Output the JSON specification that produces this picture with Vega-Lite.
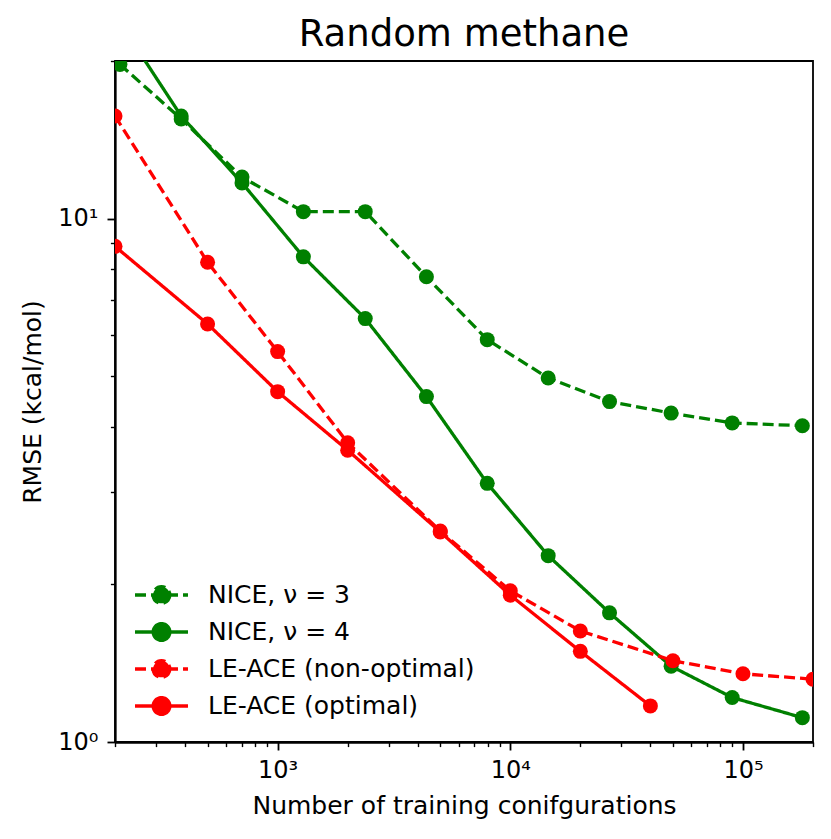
{
  "$schema": "https://vega.github.io/schema/vega-lite/v6.json",
  "autosize": {"type": "none"},
  "width": 698,
  "height": 681,
  "padding": {"left": 115, "top": 61, "right": 18, "bottom": 97},
  "background": "white",
  "title": {
    "text": "Random methane",
    "font": "DejaVu Sans",
    "fontSize": 37,
    "fontWeight": "normal",
    "color": "black",
    "anchor": "middle",
    "baseline": "alphabetic",
    "offset": -23
  },
  "config": {
    "view": {"stroke": "black", "strokeWidth": 1.8},
    "axis": {
      "domainColor": "black",
      "domainWidth": 1.8,
      "tickColor": "black",
      "tickWidth": 1.8,
      "labelColor": "black",
      "labelFont": "DejaVu Sans",
      "labelFontSize": 24,
      "titleFont": "DejaVu Sans",
      "titleFontSize": 25,
      "titleFontWeight": "normal",
      "titleColor": "black",
      "grid": false,
      "labelOverlap": false,
      "labelFlush": false
    }
  },
  "data": {
    "values": [
      {"series": "NICE, ν = 3", "n": 210, "rmse": 19.7},
      {"series": "NICE, ν = 3", "n": 385, "rmse": 15.5},
      {"series": "NICE, ν = 3", "n": 703, "rmse": 12.0},
      {"series": "NICE, ν = 3", "n": 1290, "rmse": 10.31},
      {"series": "NICE, ν = 3", "n": 2380, "rmse": 10.31},
      {"series": "NICE, ν = 3", "n": 4360, "rmse": 7.74},
      {"series": "NICE, ν = 3", "n": 7960, "rmse": 5.87},
      {"series": "NICE, ν = 3", "n": 14550, "rmse": 4.96},
      {"series": "NICE, ν = 3", "n": 26700, "rmse": 4.47},
      {"series": "NICE, ν = 3", "n": 49100, "rmse": 4.25},
      {"series": "NICE, ν = 3", "n": 89900, "rmse": 4.07},
      {"series": "NICE, ν = 3", "n": 180000, "rmse": 4.02},
      {"series": "NICE, ν = 4", "n": 210, "rmse": 23.7},
      {"series": "NICE, ν = 4", "n": 385, "rmse": 15.7},
      {"series": "NICE, ν = 4", "n": 703, "rmse": 11.7},
      {"series": "NICE, ν = 4", "n": 1290, "rmse": 8.45},
      {"series": "NICE, ν = 4", "n": 2380, "rmse": 6.44},
      {"series": "NICE, ν = 4", "n": 4360, "rmse": 4.57},
      {"series": "NICE, ν = 4", "n": 7960, "rmse": 3.12},
      {"series": "NICE, ν = 4", "n": 14550, "rmse": 2.27},
      {"series": "NICE, ν = 4", "n": 26700, "rmse": 1.765},
      {"series": "NICE, ν = 4", "n": 49100, "rmse": 1.396},
      {"series": "NICE, ν = 4", "n": 89900, "rmse": 1.216},
      {"series": "NICE, ν = 4", "n": 180000, "rmse": 1.113},
      {"series": "LE-ACE (non-optimal)", "n": 200, "rmse": 15.7},
      {"series": "LE-ACE (non-optimal)", "n": 500, "rmse": 8.25},
      {"series": "LE-ACE (non-optimal)", "n": 1000, "rmse": 5.57},
      {"series": "LE-ACE (non-optimal)", "n": 2000, "rmse": 3.73},
      {"series": "LE-ACE (non-optimal)", "n": 5000, "rmse": 2.53},
      {"series": "LE-ACE (non-optimal)", "n": 10000, "rmse": 1.945},
      {"series": "LE-ACE (non-optimal)", "n": 20000, "rmse": 1.63},
      {"series": "LE-ACE (non-optimal)", "n": 50000, "rmse": 1.43},
      {"series": "LE-ACE (non-optimal)", "n": 100000, "rmse": 1.35},
      {"series": "LE-ACE (non-optimal)", "n": 200000, "rmse": 1.318},
      {"series": "LE-ACE (optimal)", "n": 200, "rmse": 8.85},
      {"series": "LE-ACE (optimal)", "n": 500, "rmse": 6.29},
      {"series": "LE-ACE (optimal)", "n": 1000, "rmse": 4.67},
      {"series": "LE-ACE (optimal)", "n": 2000, "rmse": 3.61},
      {"series": "LE-ACE (optimal)", "n": 5000, "rmse": 2.52},
      {"series": "LE-ACE (optimal)", "n": 10000, "rmse": 1.908},
      {"series": "LE-ACE (optimal)", "n": 20000, "rmse": 1.49},
      {"series": "LE-ACE (optimal)", "n": 40000, "rmse": 1.172}
    ]
  },
  "resolve": {"axis": {"x": "independent", "y": "independent"}},
  "layer": [
    {
      "mark": {"type": "line", "strokeWidth": 3.3, "clip": true},
      "encoding": {
        "x": {
          "field": "n",
          "type": "quantitative",
          "scale": {"type": "log", "domain": [200, 200000], "nice": false},
          "axis": {
            "orient": "bottom",
            "values": [1000, 10000, 100000],
            "labelExpr": "datum.value == 1000 ? '10³' : datum.value == 10000 ? '10⁴' : '10⁵'",
            "tickSize": 8,
            "labelPadding": 8,
            "title": "Number of training conifgurations",
            "titlePadding": 11
          }
        },
        "y": {
          "field": "rmse",
          "type": "quantitative",
          "scale": {"type": "log", "domain": [1, 20], "nice": false},
          "axis": {
            "orient": "left",
            "values": [1, 10],
            "labelExpr": "datum.value == 1 ? '10⁰' : '10¹'",
            "tickSize": 8,
            "labelPadding": 9,
            "title": "RMSE (kcal/mol)",
            "titlePadding": 12
          }
        },
        "color": {
          "field": "series",
          "type": "nominal",
          "scale": {
            "domain": ["NICE, ν = 3", "NICE, ν = 4", "LE-ACE (non-optimal)", "LE-ACE (optimal)"],
            "range": ["#008000", "#008000", "#ff0000", "#ff0000"]
          },
          "legend": {
            "title": null,
            "orient": "none",
            "legendX": 31.5,
            "legendY": 519,
            "padding": 0,
            "symbolType": "M-2,0H2M0.63,0A0.63,0.63,0,1,1,-0.63,0A0.63,0.63,0,1,1,0.63,0Z",
            "symbolSize": 702,
            "symbolStrokeWidth": 3.3,
            "symbolOpacity": 1,
            "labelOffset": 31.5,
            "labelFont": "DejaVu Sans",
            "labelFontSize": 25,
            "labelColor": "black",
            "labelLimit": 400,
            "rowPadding": 7,
            "encode": {
              "symbols": {
                "update": {
                  "fill": {"scale": "color", "field": "value"},
                  "fillOpacity": {"value": 1}
                }
              }
            }
          }
        },
        "strokeDash": {
          "field": "series",
          "type": "nominal",
          "scale": {
            "domain": ["NICE, ν = 3", "NICE, ν = 4", "LE-ACE (non-optimal)", "LE-ACE (optimal)"],
            "range": [[11, 5], [1, 0], [11, 5], [1, 0]]
          }
        }
      }
    },
    {
      "mark": {"type": "point", "filled": true, "opacity": 1, "size": 225, "shape": "circle", "clip": true},
      "encoding": {
        "x": {
          "field": "n",
          "type": "quantitative",
          "axis": {
            "orient": "bottom",
            "values": [200, 300, 400, 500, 600, 700, 800, 900, 2000, 3000, 4000, 5000, 6000, 7000, 8000, 9000, 20000, 30000, 40000, 50000, 60000, 70000, 80000, 90000, 200000],
            "labels": false,
            "tickSize": 4.6,
            "tickWidth": 1.4,
            "title": null
          }
        },
        "y": {
          "field": "rmse",
          "type": "quantitative",
          "axis": {
            "orient": "left",
            "values": [2, 3, 4, 5, 6, 7, 8, 9, 20],
            "labels": false,
            "tickSize": 4.6,
            "tickWidth": 1.4,
            "title": null
          }
        },
        "color": {"field": "series", "type": "nominal", "legend": null}
      }
    }
  ]
}
